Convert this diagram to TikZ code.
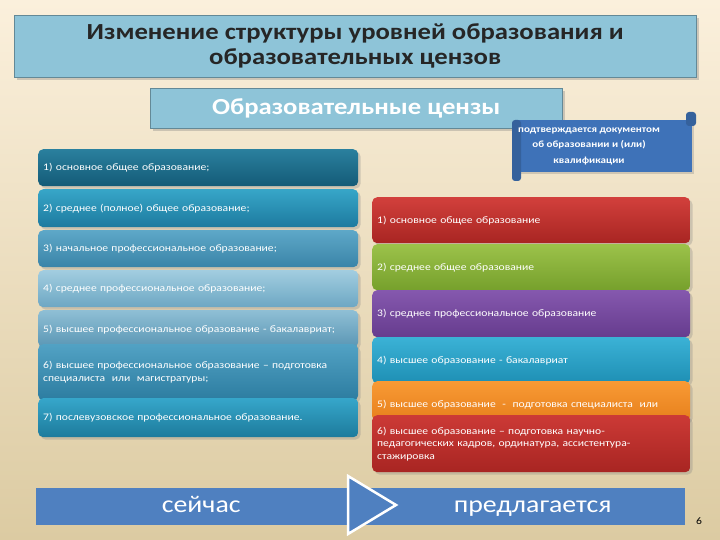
\documentclass[tikz,border=0pt]{standalone}
\usepackage{fontspec}
\setmainfont[FakeStretch=1.16]{Carlito}
\usepackage{tikz}
\usetikzlibrary{shadows,positioning}

\definecolor{bgtop}{HTML}{FBF0DC}
\definecolor{bgbot}{HTML}{DCCBA2}
\definecolor{titlebl}{HTML}{8EC4D8}
\definecolor{scrollbl}{HTML}{3E72B8}
\definecolor{barbl}{HTML}{4F80C0}
% left column
\definecolor{laT}{HTML}{2A809E}\definecolor{laB}{HTML}{145B77}
\definecolor{lbT}{HTML}{37A6C8}\definecolor{lbB}{HTML}{1D7A9F}
\definecolor{lcT}{HTML}{5EA8C8}\definecolor{lcB}{HTML}{3A84A8}
\definecolor{ldT}{HTML}{A2CDE0}\definecolor{ldB}{HTML}{6DA7C3}
\definecolor{leT}{HTML}{8FBFD5}\definecolor{leB}{HTML}{5A96B4}
\definecolor{lfT}{HTML}{52A2C4}\definecolor{lfB}{HTML}{2C7CA0}
\definecolor{lgT}{HTML}{36A6CA}\definecolor{lgB}{HTML}{1D7B9C}
% right column
\definecolor{raT}{HTML}{D2403C}\definecolor{raB}{HTML}{A82522}
\definecolor{rbT}{HTML}{9CC24A}\definecolor{rbB}{HTML}{76A02C}
\definecolor{rcT}{HTML}{8558AE}\definecolor{rcB}{HTML}{663C8E}
\definecolor{rdT}{HTML}{3BB2D6}\definecolor{rdB}{HTML}{1E8FB4}
\definecolor{reT}{HTML}{F89A35}\definecolor{reB}{HTML}{E7801C}
\definecolor{rfT}{HTML}{CC3A36}\definecolor{rfB}{HTML}{A82522}

\begin{document}
\begin{tikzpicture}[x=1pt,y=-1pt,
  title/.style={draw=titlebl!70!black, fill=titlebl, drop shadow={opacity=0.35},
    align=center, anchor=north west, inner sep=0pt},
  lbox/.style={rounded corners=5pt, anchor=north west, minimum width=320pt,
    text width=310pt, align=left, text=white, font=\fontsize{10}{12.5}\selectfont,
    inner xsep=5pt, inner ysep=2pt, drop shadow={opacity=0.3}},
  rbox/.style={lbox, minimum width=318pt, text width=308pt},
  bar/.style={fill=barbl, text=white, font=\fontsize{24}{26}\selectfont,
    minimum height=37pt, inner sep=0pt, text height=14pt, text depth=3pt,
    anchor=north west}
]

% Background
\shade[top color=bgtop, bottom color=bgbot] (0,0) rectangle (720,540);
\useasboundingbox (0,0) rectangle (720,540);

% Title and heading
\node[title, minimum width=682pt, minimum height=62pt, text=black!85,
  font=\fontsize{23}{25}\selectfont\bfseries] (head) at (14,15)
  {Изменение структуры уровней образования и\\образовательных цензов};
\node[title, minimum width=412pt, minimum height=40pt, text=white,
  font=\fontsize{23}{25}\selectfont\bfseries] (cens) at (150,88)
  {Образовательные цензы};

% Scroll
\fill[scrollbl, drop shadow={opacity=0.3}] (515,120) rectangle (692,172);
\fill[scrollbl!85!black, rounded corners=3pt] (512,120) rectangle (521,181);
\fill[scrollbl!85!black, rounded corners=3pt] (686,112) rectangle (696,126);
\node[text=white, align=center, font=\fontsize{9.5}{15.5}\selectfont\bfseries] (doc) at (589,146)
  {подтверждается документом\\об образовании и (или)\\квалификации};

% Left column: now
\node[lbox, top color=laT, bottom color=laB, minimum height=37pt] (l1) at (38,149)
  {1) основное общее образование;};
\node[lbox, top color=lbT, bottom color=lbB, minimum height=38pt] (l2) at (38,189)
  {2) среднее (полное) общее образование;};
\node[lbox, top color=lcT, bottom color=lcB, minimum height=37pt] (l3) at (38,230)
  {3) начальное профессиональное образование;};
\node[lbox, top color=ldT, bottom color=ldB, minimum height=37pt] (l4) at (38,270)
  {4) среднее профессиональное образование;};
\node[lbox, top color=leT, bottom color=leB, minimum height=37pt] (l5) at (38,310)
  {\raisebox{-10pt}{5) высшее профессиональное образование - бакалавриат;}};
\node[lbox, top color=lfT, bottom color=lfB, minimum height=56pt] (l6) at (38,344)
  {6) высшее профессиональное образование -- подготовка\\специалиста \ или \ магистратуры;};
\node[lbox, top color=lgT, bottom color=lgB, minimum height=39pt] (l7) at (38,398)
  {7) послевузовское профессиональное образование.};

% Right column: proposed
\node[rbox, top color=raT, bottom color=raB, minimum height=46pt] (r1) at (372,197)
  {1) основное общее образование};
\node[rbox, top color=rbT, bottom color=rbB, minimum height=46pt] (r2) at (372,244)
  {2) среднее общее образование};
\node[rbox, top color=rcT, bottom color=rcB, minimum height=47pt] (r3) at (372,290)
  {3) среднее профессиональное образование};
\node[rbox, top color=rdT, bottom color=rdB, minimum height=46pt] (r4) at (372,337)
  {4) высшее образование - бакалавриат};
\node[rbox, top color=reT, bottom color=reB, minimum height=40pt] (r5) at (372,381)
  {\raisebox{-14pt}{5) высшее образование \ - \ подготовка специалиста \ или}};
\node[rbox, top color=rfT, bottom color=rfB, minimum height=57pt] (r6) at (372,415)
  {6) высшее образование -- подготовка научно-\\педагогических кадров, ординатура, ассистентура-\\стажировка};

% Bottom bar with chevron
\node[bar, minimum width=330pt] (now) at (36,488) {сейчас};
\node[bar, minimum width=319pt] (next) at (366,488) {\hspace*{14pt}предлагается};
\filldraw[fill=barbl, draw=white, line width=2.5pt, line join=miter]
  (348,476) -- (396,505) -- (348,534) -- cycle;
\node[font=\fontsize{10}{12}\selectfont, anchor=center] (page) at (699,521) {6};
\end{tikzpicture}
\end{document}
